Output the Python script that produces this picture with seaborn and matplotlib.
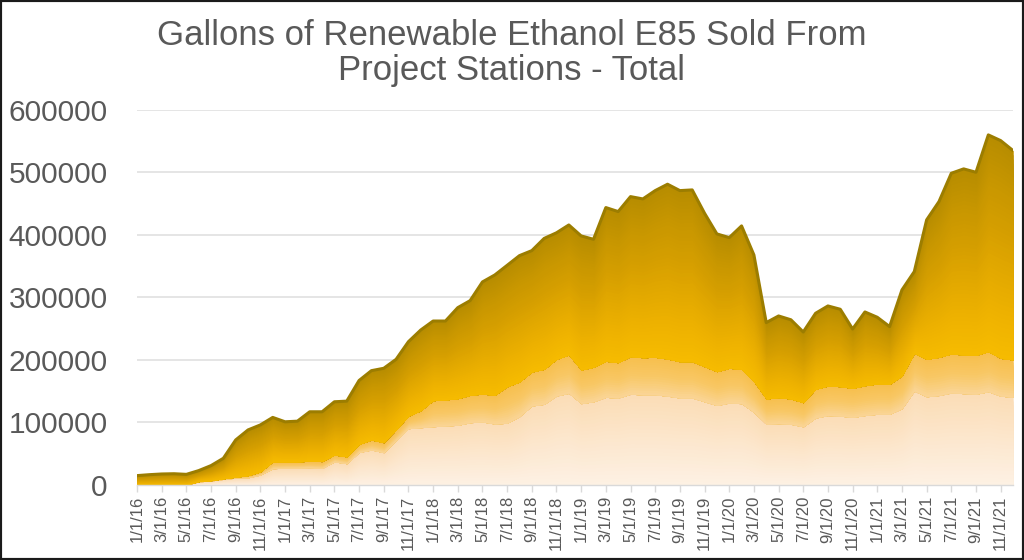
import numpy as np
import pandas as pd
import matplotlib
matplotlib.use("Agg")
import matplotlib.pyplot as plt
import seaborn as sns
from matplotlib.patches import Rectangle

# ---- data (gallons per month) ----
months = pd.date_range("2016-01-01", "2021-12-01", freq="MS")
month_labels = [f"{d.month}/1/{d.year % 100:02d}" for d in months]

# lightest stations group (bottom of the stack)
light_group = [0, 0, 0, 0, 0, 5000, 6500, 9000, 11000, 11500, 16000, 26000,
               27000, 27000, 27500, 26500, 37000, 34000, 52000, 56000, 51700, 70900, 90000, 91600,
               93200, 94300, 95400, 99600, 100700, 97500, 98600, 109200, 126300, 128900, 142200, 146500,
               130000, 133000, 140000, 139000, 145000, 144000, 144000, 142000, 139000, 139000, 133000, 127000,
               131000, 130000, 116000, 97000, 98000, 97000, 93000, 107000, 111000, 110000, 108000, 111000,
               113000, 113000, 122000, 150000, 141000, 143000, 147000, 146000, 145000, 149000, 142000, 140000]

# middle stations group
middle_group = [0, 0, 0, 0, 0, 500, 500, 1000, 1500, 3500, 5000, 11000,
                10000, 10000, 10500, 11000, 11000, 11000, 13000, 16000, 16000, 17100, 20000, 27200,
                41600, 41600, 42600, 43700, 44700, 45800, 58400, 55400, 54300, 56000, 58600, 61300,
                53800, 55100, 57700, 56500, 60100, 59500, 60000, 59400, 58100, 58100, 56100, 54100,
                55500, 54900, 49200, 40500, 41600, 40500, 38600, 45900, 47200, 47200, 46500, 47800,
                48400, 47900, 52200, 60400, 59900, 61000, 62400, 61800, 62200, 64100, 60400, 59800]

# darkest stations group (top of the stack)
dark_group = [15000, 16500, 17600, 18000, 17000, 17500, 24000, 32700, 59500, 73000, 75000, 71000,
              64000, 65000, 79000, 79500, 85000, 89000, 102000, 110700, 118800, 112800, 119000, 128900,
              127200, 126100, 145400, 151300, 179100, 192300, 194000, 201900, 193900, 209100, 202200, 207700,
              214200, 204500, 245600, 241400, 255700, 253600, 266400, 279200, 273300, 274400, 245100, 220100,
              208800, 229100, 202400, 122000, 130500, 126500, 112900, 121500, 127900, 123600, 94800, 117700,
              106600, 92200, 137500, 130600, 222700, 248800, 288700, 297300, 292500, 346300, 347900, 334600]

title_lines = ["Gallons of Renewable Ethanol E85 Sold From", "Project Stations - Total"]
y_ticks = [0, 100000, 200000, 300000, 400000, 500000, 600000]

# ---- style ----
sns.set_theme(style="white")
plt.rcParams["font.family"] = ["Liberation Sans", "DejaVu Sans"]
text_gray = "#595959"

fig = plt.figure(figsize=(10.24, 5.6), dpi=100)
ax = fig.add_axes([137 / 1024, 1 - 485 / 560, (1013 - 137) / 1024, (485 - 109.5) / 560])

x = np.arange(len(months))
layers = np.vstack([light_group, middle_group, dark_group]).astype(float)

# base stacked areas
base_colors = ["#FCE6CC", "#F9C870", "#DCA400"]
ax.stackplot(x, layers, colors=base_colors, linewidth=0, zorder=2)

# shading: each stacked group is tinted from its lower to its upper edge;
# strips are painted top-down as overlapping fills so no seams appear
cmaps = [
    sns.blend_palette(["#FDF1E4", "#FCE7CE", "#FBDDB6"], as_cmap=True),
    sns.blend_palette(["#FAD597", "#F8C866", "#F7BF4E"], as_cmap=True),
    sns.blend_palette(["#F6BB00", "#EEB200", "#E2A800", "#D49E00", "#C79600", "#B78D00"], as_cmap=True),
]
cum = np.vstack([np.zeros(len(x)), np.cumsum(layers, axis=0)])
n_strips = [24, 16, 48]
for j in range(3):
    lo, hi = cum[j], cum[j + 1]
    n = n_strips[j]
    for k in range(n - 1, -1, -1):
        col = cmaps[j]((k + 0.5) / n)
        ax.fill_between(x, lo, lo + (hi - lo) * (k + 1) / n,
                        facecolor=col, linewidth=0, antialiased=False, zorder=3 + j)

# darker edge along the total
sns.lineplot(x=x, y=cum[-1], color="#9C7D00", linewidth=2.2, ax=ax, zorder=7)

# ---- axes ----
ax.set_xlim(0, len(x) - 1)
ax.set_ylim(0, 600000)
ax.set_yticks(y_ticks)
ax.set_yticklabels([str(v) for v in y_ticks])
ax.set_xticks(x[::2])
ax.set_xticklabels(month_labels[::2])
ax.yaxis.grid(True, color="#E3E3E3", linewidth=1.3, zorder=0)
ax.xaxis.grid(False)
ax.set_axisbelow(True)
for s in ["top", "left", "right"]:
    ax.spines[s].set_visible(False)
ax.spines["bottom"].set_color("#D9D9D9")
ax.spines["bottom"].set_linewidth(1.0)
ax.spines["bottom"].set_zorder(8)
ax.tick_params(axis="y", left=False, length=0, pad=21, labelsize=21.5, labelcolor=text_gray)
ax.tick_params(axis="x", bottom=True, length=5, width=1, color="#D9D9D9", direction="out",
               labelsize=12, labelcolor=text_gray, labelrotation=90, pad=3)
ax.set_xlabel("")
ax.set_ylabel("")

# ---- title ----
fig.text(0.5, 1 - 45 / 560, title_lines[0], ha="center", va="baseline", fontsize=25, color=text_gray)
fig.text(0.5, 1 - 80 / 560, title_lines[1], ha="center", va="baseline", fontsize=25, color=text_gray)

# outer frame
fig.add_artist(Rectangle((0, 0), 1, 1, transform=fig.transFigure, fill=False,
                         edgecolor="#1A1A1A", linewidth=3))

fig.savefig("out.png", dpi=100)
